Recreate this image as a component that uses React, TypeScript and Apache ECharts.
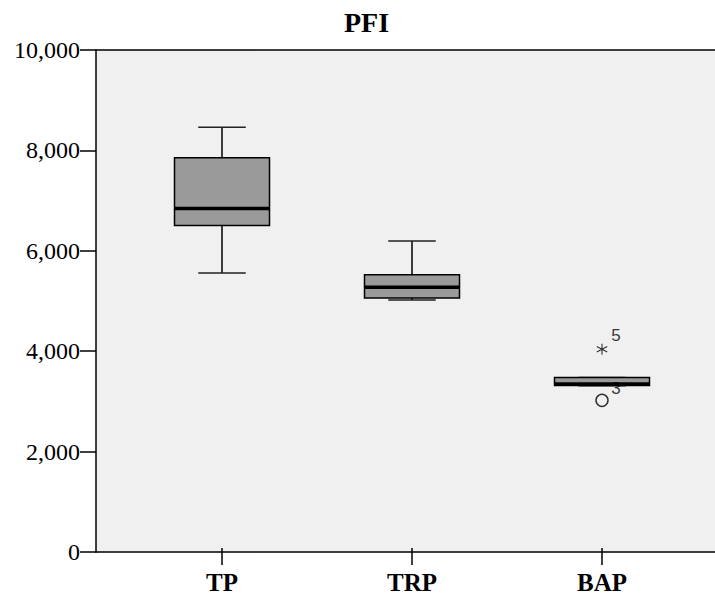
import React, { useEffect, useRef } from "react";
import * as echarts from "echarts";

const categories = ["TP", "TRP", "BAP"];
const whiskerLow = [5520, 4980, 3260];
const quartile1 = [6475, 5020, 3262];
const medians = [6815, 5235, 3292];
const quartile3 = [7835, 5485, 3425];
const whiskerHigh = [8450, 6165, 3425];
// outliers: [category, value, case label]
const extremes = [["BAP", 3990, "5"]];
const outliers = [["BAP", 2965, "3"]];
const yTicks = [0, 2000, 4000, 6000, 8000, 10000];

const asterisk =
  "path://M4.55 0 L5.45 0 L5.45 10 L4.55 10 Z M0.895 2.11 L9.555 7.11 L9.105 7.89 L0.445 2.89 Z M0.445 7.11 L9.105 2.11 L9.555 2.89 L0.895 7.89 Z";

export default function App() {
  const ref = useRef<HTMLDivElement>(null);
  useEffect(() => {
    const chart = echarts.init(ref.current!, null, { renderer: "svg" });
    const serif = "Liberation Serif";
    const boxData = categories.map((c, i) => [
      i,
      whiskerLow[i],
      quartile1[i],
      medians[i],
      quartile3[i],
      whiskerHigh[i],
    ]);
    chart.setOption({
      animation: false,
      backgroundColor: "#ffffff",
      title: {
        text: "PFI",
        left: 344,
        top: 8,
        padding: 0,
        textStyle: { fontFamily: serif, fontSize: 28, fontWeight: "bold", color: "#000" },
      },
      grid: [
        { left: 96, right: 0, top: 50, bottom: 43, show: true, backgroundColor: "#f0f0f0", borderWidth: 0 },
        { left: 127, width: 570, top: 50, bottom: 43 },
      ],
      xAxis: [
        {
          type: "value",
          gridIndex: 0,
          min: 0,
          max: 1,
          position: "bottom",
          axisLine: { show: true, lineStyle: { color: "#000", width: 1.5 } },
          axisTick: { show: false },
          axisLabel: { show: false },
          splitLine: { show: false },
        },
        {
          type: "value",
          gridIndex: 0,
          min: 0,
          max: 1,
          position: "top",
          axisLine: { show: true, lineStyle: { color: "#000", width: 1.5 } },
          axisTick: { show: false },
          axisLabel: { show: false },
          splitLine: { show: false },
        },
        {
          type: "category",
          gridIndex: 1,
          data: categories,
          boundaryGap: true,
          axisLine: { show: false },
          axisTick: { show: true, alignWithLabel: true, length: 17, lineStyle: { color: "#000", width: 1.5 } },
          axisLabel: {
            margin: 22,
            verticalAlign: "top",
            fontFamily: serif,
            fontSize: 25,
            fontWeight: "bold",
            color: "#000",
          },
          splitLine: { show: false },
        },
      ],
      yAxis: [
        {
          type: "value",
          gridIndex: 0,
          min: yTicks[0],
          max: yTicks[yTicks.length - 1],
          interval: 2000,
          axisLine: { show: true, lineStyle: { color: "#000", width: 1.5 } },
          axisTick: { show: true, length: 16, lineStyle: { color: "#000", width: 1.5 } },
          axisLabel: {
            margin: 16,
            fontFamily: serif,
            fontSize: 24,
            color: "#000",
            formatter: (v: number) => v.toLocaleString("en-US"),
          },
          splitLine: { show: false },
        },
        {
          type: "value",
          gridIndex: 1,
          min: yTicks[0],
          max: yTicks[yTicks.length - 1],
          show: false,
        },
      ],
      series: [
        {
          type: "custom",
          xAxisIndex: 2,
          yAxisIndex: 1,
          data: boxData,
          encode: { x: 0, y: [1, 2, 3, 4, 5] },
          renderItem: (params: any, api: any) => {
            const i = api.value(0);
            const lo = api.coord([i, api.value(1)]);
            const q1 = api.coord([i, api.value(2)]);
            const md = api.coord([i, api.value(3)]);
            const q3 = api.coord([i, api.value(4)]);
            const hi = api.coord([i, api.value(5)]);
            const bw = api.size([1, 0])[0];
            const w = bw * 0.5;
            const cap = w * 0.25;
            const x = lo[0];
            const ls = { stroke: "#000", lineWidth: 1.5 };
            return {
              type: "group",
              children: [
                { type: "line", shape: { x1: x, y1: hi[1], x2: x, y2: q3[1] }, style: ls },
                { type: "line", shape: { x1: x, y1: q1[1], x2: x, y2: lo[1] }, style: ls },
                { type: "line", shape: { x1: x - cap, y1: hi[1], x2: x + cap, y2: hi[1] }, style: { stroke: "#222", lineWidth: 1.5 } },
                { type: "line", shape: { x1: x - cap, y1: lo[1], x2: x + cap, y2: lo[1] }, style: { stroke: "#222", lineWidth: 1.5 } },
                {
                  type: "rect",
                  shape: { x: x - w / 2, y: q3[1], width: w, height: q1[1] - q3[1] },
                  style: { fill: "#9a9a9a", stroke: "#000", lineWidth: 1.5 },
                },
                { type: "line", shape: { x1: x - w / 2, y1: md[1], x2: x + w / 2, y2: md[1] }, style: { stroke: "#000", lineWidth: 3.5 } },
              ],
            };
          },
          z: 2,
        },
        {
          type: "scatter",
          xAxisIndex: 2,
          yAxisIndex: 1,
          data: extremes.map((d) => ({ value: [d[0], d[1]], name: d[2] })),
          symbol: asterisk,
          symbolSize: 11,
          itemStyle: { color: "#000" },
          label: {
            show: true,
            position: "inside",
            offset: [14, -14],
            formatter: (p: any) => p.name,
            fontFamily: "Liberation Sans",
            fontSize: 17,
            color: "#000",
          },
          z: 3,
        },
        {
          type: "scatter",
          xAxisIndex: 2,
          yAxisIndex: 1,
          data: outliers.map((d) => ({ value: [d[0], d[1]], name: d[2] })),
          symbol: "circle",
          symbolSize: 12,
          itemStyle: { color: "#f0f0f0", borderColor: "#000", borderWidth: 1.5 },
          label: {
            show: true,
            position: "inside",
            offset: [14, -12],
            formatter: (p: any) => p.name,
            fontFamily: "Liberation Sans",
            fontSize: 17,
            color: "#000",
          },
          z: 3,
        },
      ],
    });
    return () => chart.dispose();
  }, []);
  return <div ref={ref} style={{ position: "fixed", left: 0, top: 0, width: 715, height: 595 }} />;
}
